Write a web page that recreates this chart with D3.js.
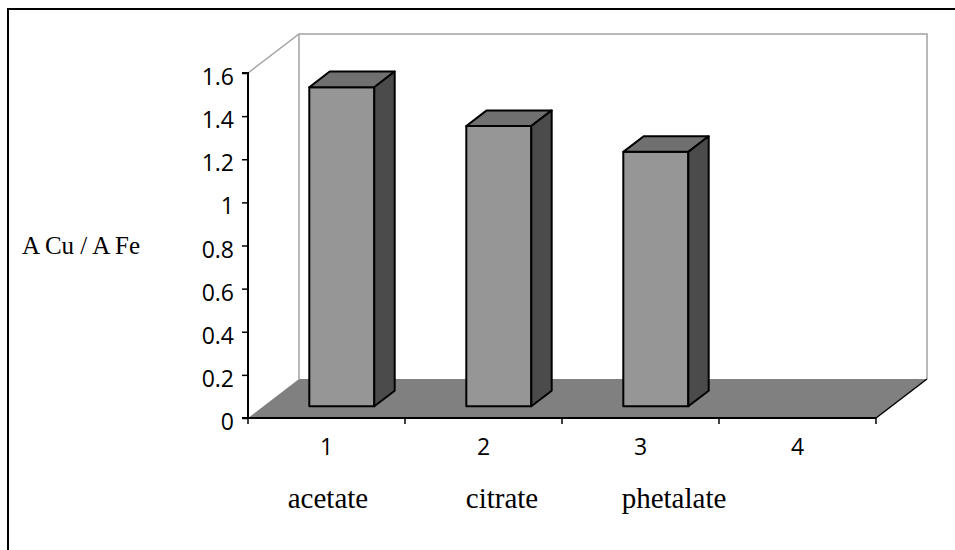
<!DOCTYPE html>
<html>
<head>
<meta charset="utf-8">
<script src="https://cdn.jsdelivr.net/npm/d3@7"></script>
<style>
  body { margin: 0; background: #fff; }
  svg { display: block; }
</style>
</head>
<body>
<svg id="chart" width="955" height="550"></svg>
<script>
// Copper / iron absorbance ratio per buffer
const categories = ["1", "2", "3", "4"];
const bufferNames = ["acetate", "citrate", "phetalate"];
const ratios = [1.48, 1.30, 1.18, null];
const yTickValues = [0, 0.2, 0.4, 0.6, 0.8, 1, 1.2, 1.4, 1.6];

const svg = d3.select("#chart");

// Plot geometry (front plane and the depth offset of the back wall)
const plot = { left: 248, right: 876, top: 73, bottom: 418 };
const depth = { dx: 51, dy: -39 };
const barDepth = [0.3, 0.7];     // bar front/back as a fraction of the depth
const barWidthFrac = 0.414;

const x = d3.scaleBand().domain(categories).range([plot.left, plot.right]);
const y = d3.scaleLinear().domain([0, 1.6]).range([plot.bottom, plot.top]);

const wallColor = "#a3a3a3";

// Outer chart frame
svg.append("rect")
  .attr("x", 8).attr("y", 9).attr("width", 1200).attr("height", 1200)
  .attr("fill", "none").attr("stroke", "#000").attr("stroke-width", 2);

// Walls
const walls = svg.append("g").attr("fill", "none").attr("stroke", wallColor).attr("stroke-width", 1.5);
const bx0 = plot.left + depth.dx, bx1 = plot.right + depth.dx;
const byTop = plot.top + depth.dy, byBot = plot.bottom + depth.dy;
walls.append("path").attr("d", `M${plot.left},${plot.top}L${bx0},${byTop}L${bx1},${byTop}L${bx1},${byBot}`);
walls.append("path").attr("d", `M${bx0},${byTop}L${bx0},${byBot}`);

// Floor
svg.append("path")
  .attr("d", `M${plot.left},${plot.bottom}L${plot.right},${plot.bottom}L${bx1},${byBot}L${bx0},${byBot}Z`)
  .attr("fill", "#808080");
svg.append("path")
  .attr("d", `M${plot.right},${plot.bottom}L${bx1},${byBot}`)
  .attr("stroke", "#000").attr("stroke-width", 1.5);

// Bars drawn as 3-D boxes
const data = categories.map((c, i) => ({ c, v: ratios[i] })).filter(d => d.v != null);
const bars = svg.append("g").attr("stroke", "#000").attr("stroke-width", 2).attr("stroke-linejoin", "round");
const fdx = depth.dx * barDepth[0], fdy = depth.dy * barDepth[0];
const bdx = depth.dx * barDepth[1], bdy = depth.dy * barDepth[1];

data.forEach(d => {
  const w = x.bandwidth() * barWidthFrac;
  const xl = x(d.c) + (x.bandwidth() - w) / 2;
  const xr = xl + w;
  const y0 = y(0), y1 = y(d.v);
  const g = bars.append("g");
  // front face
  g.append("path").attr("fill", "#969696")
    .attr("d", `M${xl + fdx},${y0 + fdy}L${xr + fdx},${y0 + fdy}L${xr + fdx},${y1 + fdy}L${xl + fdx},${y1 + fdy}Z`);
  // top face
  g.append("path").attr("fill", "#707070")
    .attr("d", `M${xl + fdx},${y1 + fdy}L${xr + fdx},${y1 + fdy}L${xr + bdx},${y1 + bdy}L${xl + bdx},${y1 + bdy}Z`);
  // side face
  g.append("path").attr("fill", "#4b4b4b")
    .attr("d", `M${xr + fdx},${y0 + fdy}L${xr + bdx},${y0 + bdy}L${xr + bdx},${y1 + bdy}L${xr + fdx},${y1 + fdy}Z`);
});

// Value axis
const yAxis = svg.append("g")
  .attr("transform", `translate(${plot.left},0)`)
  .call(d3.axisLeft(y).tickValues(yTickValues).tickFormat(d3.format("~g")).tickSize(6).tickPadding(8));
yAxis.select(".domain").attr("stroke", "#000").attr("stroke-width", 2).attr("d", `M-6,${plot.top}H0V${plot.bottom}H-6`);
yAxis.selectAll(".tick line").attr("stroke", "#000").attr("stroke-width", 1.5);
yAxis.selectAll(".tick text")
  .attr("fill", "#000").attr("dy", "0.5em")
  .style("font-family", "'Open Sans', sans-serif").style("font-size", "23px");

// Category axis
const xAxis = svg.append("g")
  .attr("transform", `translate(0,${plot.bottom})`)
  .call(d3.axisBottom(x).tickSize(0).tickPadding(21));
xAxis.select(".domain").attr("stroke", "#000").attr("stroke-width", 2).attr("d", `M${plot.left},0H${plot.right}`);
xAxis.selectAll(".tick text")
  .attr("fill", "#000")
  .style("font-family", "'Open Sans', sans-serif").style("font-size", "23px");
// tick marks on category boundaries
const boundaries = categories.map(c => x(c)).concat([plot.right]);
xAxis.selectAll("line.boundary").data(boundaries).join("line")
  .attr("class", "boundary")
  .attr("x1", d => d).attr("x2", d => d).attr("y1", 0).attr("y2", 6)
  .attr("stroke", "#000").attr("stroke-width", 1.5);

// Buffer names under the category numbers
const nameCenters = [328, 502, 674];
svg.append("g").selectAll("text").data(bufferNames).join("text")
  .attr("x", (d, i) => nameCenters[i]).attr("y", 508)
  .attr("text-anchor", "middle")
  .style("font-family", "'Liberation Serif', 'Times New Roman', serif").style("font-size", "29px")
  .text(d => d);

// Value axis title
svg.append("text")
  .attr("x", 22).attr("y", 254)
  .style("font-family", "'Liberation Serif', 'Times New Roman', serif").style("font-size", "25px")
  .text("A Cu / A Fe");
</script>
</body>
</html>
